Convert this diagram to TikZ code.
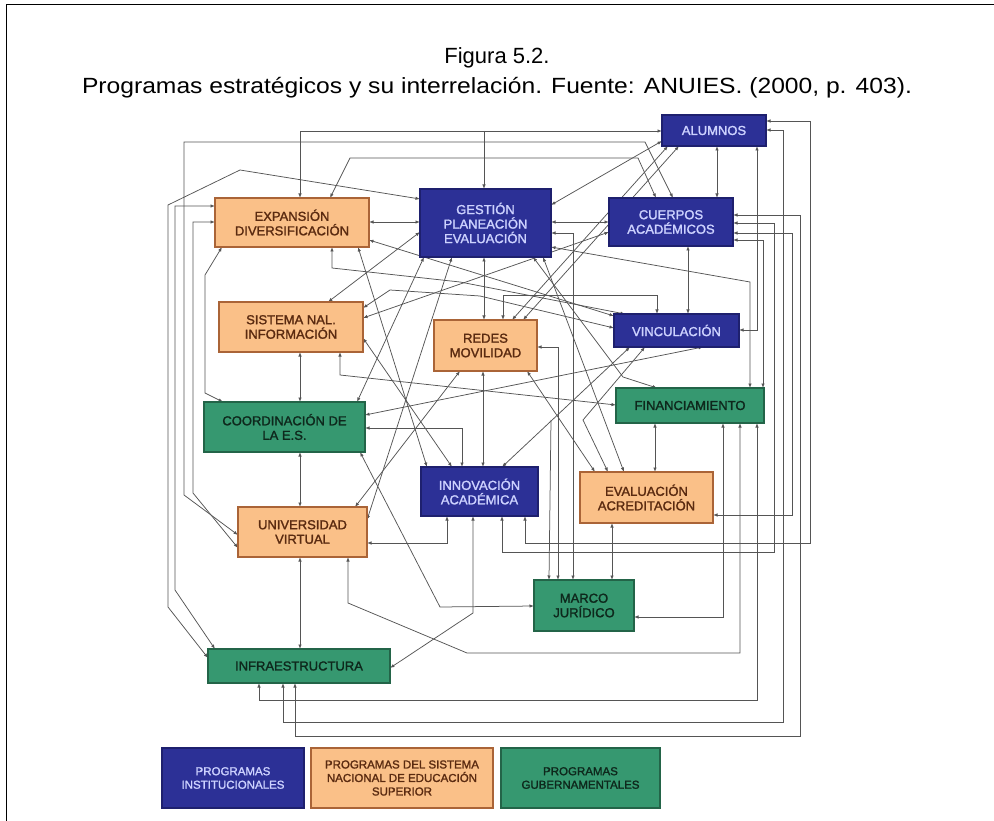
\documentclass[tikz,border=0pt]{standalone}
\usepackage{fontspec}
\setmainfont{Liberation Sans}
\newfontface\boxface[FakeBold=1.6]{Liberation Sans}
\usetikzlibrary{arrows.meta,backgrounds}

\definecolor{instfill}{RGB}{44,48,150}
\definecolor{instline}{RGB}{30,32,110}
\definecolor{insttext}{RGB}{205,210,255}
\definecolor{nacfill}{RGB}{250,192,136}
\definecolor{nacline}{RGB}{170,100,55}
\definecolor{nactext}{RGB}{90,42,16}
\definecolor{gubfill}{RGB}{54,152,112}
\definecolor{gubline}{RGB}{35,100,72}
\definecolor{gubtext}{RGB}{14,40,28}
\definecolor{linkgray}{RGB}{85,85,85}

\tikzset{
  x=1pt, y=-1pt,
  box/.style={draw, line width=1.1pt, inner sep=1pt, outer sep=0pt, align=center,
              anchor=north west, font=\boxface\fontsize{13}{14.5}\selectfont},
  inst/.style={box, fill=instfill, draw=instline, text=insttext},
  nac/.style={box, fill=nacfill, draw=nacline, text=nactext},
  gub/.style={box, fill=gubfill, draw=gubline, text=gubtext},
  legendbox/.style={font=\boxface\fontsize{11.5}{13.5}\selectfont},
  tip/.tip={Latex[length=4.5pt,width=3.4pt]},
  lnk/.style={draw=linkgray, line width=0.75pt, tip-tip},
  lnkend/.style={draw=linkgray, line width=0.75pt, -tip},
}

\begin{document}
\begin{tikzpicture}
\useasboundingbox (0,0) rectangle (994,821);
% page frame
\draw[line width=0.8pt] (6,821) -- (6,4) -- (994,4);

% caption
\node[font=\fontsize{22}{26}\selectfont] (fig) at (497,58) {Figura 5.2.};
\node[font=\fontsize{22}{26}\selectfont] (cap) at (497,88)
  {\scalebox{1.12}[1]{Programas estratégicos y su interrelación. Fuente: ANUIES. (2000, p. 403).}};

% program boxes
\node[inst, minimum width=104, minimum height=31] (alu) at (662,115) {ALUMNOS};
\node[inst, minimum width=131, minimum height=68] (ges) at (420,189) {GESTIÓN\\PLANEACIÓN\\EVALUACIÓN};
\node[inst, minimum width=124, minimum height=48] (cue) at (609,198) {CUERPOS\\ACADÉMICOS};
\node[nac, minimum width=154, minimum height=49] (exp) at (215,198) {EXPANSIÓN\\DIVERSIFICACIÓN};
\node[nac, minimum width=144, minimum height=50] (sis) at (219,302) {SISTEMA NAL.\\INFORMACIÓN};
\node[nac, minimum width=103, minimum height=51] (red) at (434,320) {REDES\\MOVILIDAD};
\node[inst, minimum width=125, minimum height=33] (vin) at (614,314) {VINCULACIÓN};
\node[gub, minimum width=148, minimum height=35] (fin) at (616,388) {FINANCIAMIENTO};
\node[gub, minimum width=161, minimum height=50] (coo) at (204,402) {COORDINACIÓN DE\\LA E.S.};
\node[inst, minimum width=117, minimum height=49] (inn) at (421,467) {INNOVACIÓN\\ACADÉMICA};
\node[nac, minimum width=133, minimum height=51] (eva) at (580,472) {EVALUACIÓN\\ACREDITACIÓN};
\node[nac, minimum width=129, minimum height=50] (uni) at (238,507) {UNIVERSIDAD\\VIRTUAL};
\node[gub, minimum width=100, minimum height=51] (mar) at (534,580) {MARCO\\JURÍDICO};
\node[gub, minimum width=182, minimum height=34] (inf) at (208,649) {INFRAESTRUCTURA};

% legend
\node[inst, legendbox, minimum width=142, minimum height=60] (lgi) at (162,748) {PROGRAMAS\\INSTITUCIONALES};
\node[nac, legendbox, minimum width=182, minimum height=60] (lgn) at (311,748) {PROGRAMAS DEL SISTEMA\\NACIONAL DE EDUCACIÓN\\SUPERIOR};
\node[gub, legendbox, minimum width=159, minimum height=60] (lgg) at (501,748) {PROGRAMAS\\GUBERNAMENTALES};

\begin{pgfonlayer}{background}
% upper routes
\draw[lnk] (exp.north -| 300,0) |- (alu.west |- 0,131);
\coordinate (jtop) at (484,131);
\draw[lnkend] (jtop) -- (ges.north -| 484,0);
\draw[lnk] (cue.north -| 673,0) -- (645,142) -- (184,142) -- (184,495) -- (uni.west |- 0,535);
\draw[lnk] (cue.north -| 656,0) -- (638,158) -- (350,158) -- (exp.north -| 330,0);

% left-hand bundle
\draw[lnk] (ges.west |- 0,199) -- (240,170) -- (168,205) -- (168,607) -- (inf.west |- 0,658);
\draw[lnk] (exp.west |- 0,206) -- (175,206) -- (175,590) -- (inf.north -| 215,0);
\draw[lnk] (exp.west |- 0,222) -- (193,222) -- (193,493) -- (uni.west |- 0,548);
\draw[lnk] (exp.south -| 222,0) -- (205,275) -- (205,393) -- (coo.north -| 223,0);

% expansion links
\draw[lnk] (exp.east |- 0,222) -- (ges.west |- 0,222);
\draw[lnk] (sis.north -| 328,0) -- (ges.west |- 0,232);
\draw[lnk] (exp.east |- 0,240) -- (vin.west |- 0,316);
\draw[lnk] (exp.south -| 332,0) -- (332,268) -- (460,282) -- (vin.north -| 625,0);
\draw[lnk] (exp.south -| 358,0) -- (inn.north -| 427,0);

% alumnos
\draw[lnk] (alu.west |- 0,141) -- (ges.east |- 0,205);
\draw[lnk] (alu.south -| 668,0) -- (red.north -| 512,0);
\draw[lnk] (alu.south -| 679,0) -- (red.north -| 523,0);
\draw[lnk] (alu.south -| 717,0) -- (cue.north -| 717,0);
\draw[lnk] (alu.south -| 757,0) |- (vin.east |- 0,330);
\draw[lnk] (alu.east |- 0,121) -| (810,543) -| (inn.south -| 525,0);
\draw[lnk] (alu.east |- 0,130) -| (783,722) -| (inf.south -| 283,0);

% cuerpos academicos
\draw[lnk] (cue.east |- 0,215) -| (800,736) -| (inf.south -| 295,0);
\draw[lnk] (cue.east |- 0,223) -| (774,552) -| (inn.south -| 502,0);
\draw[lnk] (cue.east |- 0,233) -| (792,515) -- (eva.east |- 0,515);
\draw[lnk] (cue.east |- 0,240) -| (fin.north -| 763,0);
\draw[lnk] (ges.east |- 0,222) -- (cue.west |- 0,222);
\draw[lnk] (cue.west |- 0,232) -- (sis.east |- 0,318);
\draw[lnk] (cue.south -| 688,0) -- (vin.north -| 688,0);

% gestion
\draw[lnk] (ges.east |- 0,233) -| (mar.north -| 573,0);
\draw[lnk] (ges.east |- 0,247) -- (750,282) -- (fin.north -| 750,0);
\draw[lnk] (ges.south -| 484,0) -- (red.north -| 484,0);
\draw[lnk] (ges.south -| 543,0) -- (eva.north -| 624,0);
\draw[lnk] (ges.south -| 533,0) -- (623,377) -- (fin.north -| 657,0);
\draw[lnk] (ges.south -| 424,0) -- (coo.north -| 357,0);
\draw[lnk] (ges.south -| 452,0) -- (uni.east |- 0,520);

% redes
\draw[lnk] (red.south -| 460,0) -- (uni.north -| 355,0);
\draw[lnk] (red.south -| 483,0) -- (inn.north -| 483,0);
\draw[lnk] (red.south -| 527,0) -- (eva.north -| 595,0);
\draw[lnk] (red.east |- 0,347) -| (mar.north -| 558,0);
\draw[lnk] (red.north -| 503,0) |- (657,295) -- (vin.north -| 657,0);

% vinculacion
\draw[lnk] (vin.south -| 630,0) -- (inn.north -| 502,0);
\coordinate (jvin) at (551,420);
\draw[lnkend] (jvin) -- (mar.north -| 549,0);
\draw[lnk] (vin.south -| 645,0) -- (583,420) -- (eva.north -| 608,0);
\draw[lnk] (vin.south -| 703,0) -- (coo.east |- 0,415);

% sistema
\draw[lnk] (sis.east |- 0,308) -- (390,290) -- (480,296) -- (vin.west |- 0,328);
\draw[lnk] (sis.east |- 0,338) -- (inn.north -| 452,0);
\draw[lnk] (sis.south -| 300,0) -- (coo.north -| 300,0);
\draw[lnk] (sis.south -| 340,0) -- (340,375) -- (fin.west |- 0,405);

% coordinacion
\draw[lnk] (coo.east |- 0,428) -| (inn.north -| 462,0);
\draw[lnk] (coo.south -| 300,0) -- (uni.north -| 300,0);
\draw[lnk] (coo.south -| 360,0) -- (440,607) -- (mar.west |- 0,606);

% lower part
\draw[lnk] (uni.south -| 300,0) -- (inf.north -| 300,0);
\draw[lnk] (uni.south -| 348,0) -- (348,603) -- (467,653) -| (fin.south -| 740,0);
\draw[lnk] (inn.south -| 447,0) |- (uni.east |- 0,543);
\draw[lnk] (inn.south -| 473,0) -- (473,613) -- (inf.east |- 0,668);
\draw[lnk] (eva.south -| 612,0) -- (mar.north -| 612,0);
\draw[lnk] (fin.south -| 655,0) -- (eva.north -| 655,0);
\draw[lnk] (fin.south -| 723,0) |- (mar.east |- 0,617);
\draw[lnk] (fin.south -| 757,0) -- (757,700) -| (inf.south -| 259,0);
\end{pgfonlayer}
\end{tikzpicture}
\end{document}
